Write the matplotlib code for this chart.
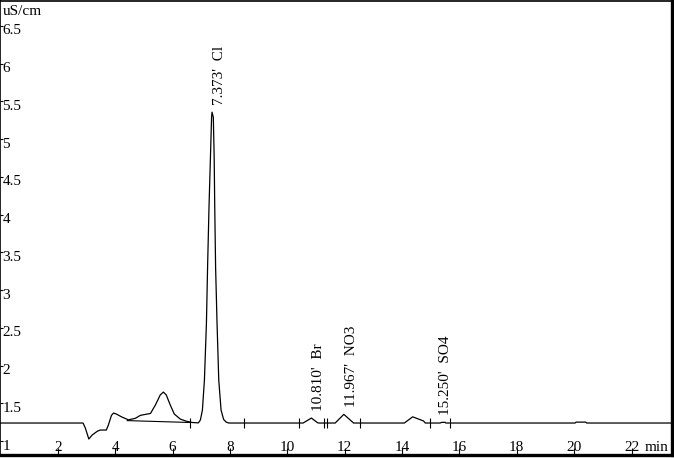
import matplotlib
matplotlib.use("Agg")
import matplotlib.pyplot as plt
import matplotlib.transforms as mtransforms

plt.rcParams['font.family'] = ['Liberation Serif', 'DejaVu Serif']

# chromatogram trace (min, uS/cm)
trace_time = [0.00, 2.88, 2.96, 3.08, 3.20, 3.38, 3.48, 3.69, 3.76, 3.87, 3.94, 4.04,
              4.22, 4.46, 4.70, 4.88, 5.23, 5.40, 5.57, 5.68, 5.78, 5.92, 6.06, 6.27,
              6.48, 6.69, 6.90, 6.97, 7.04, 7.11, 7.18, 7.22, 7.27, 7.32, 7.36, 7.375,
              7.42, 7.45, 7.47, 7.50, 7.55, 7.61, 7.69, 7.78, 7.87, 7.96, 10.55, 10.84, 11.05,
              11.09, 11.67, 11.97, 12.31, 14.08, 14.37, 14.75, 14.81, 15.33, 15.38, 15.50,
              15.53, 20.03, 20.07, 20.40, 20.44, 23.41]
trace_value = [1.238, 1.238, 1.17, 1.026, 1.08, 1.13, 1.145, 1.145, 1.21, 1.34, 1.37, 1.357,
               1.32, 1.28, 1.30, 1.34, 1.365, 1.476, 1.61, 1.648, 1.61, 1.476, 1.357, 1.29,
               1.262, 1.245, 1.24, 1.278, 1.41, 1.807, 2.56, 3.30, 4.10, 4.76, 5.29, 5.356,
               5.29, 4.76, 4.10, 3.30, 2.56, 1.807, 1.41, 1.285, 1.25, 1.238, 1.238, 1.304, 1.243,
               1.238, 1.238, 1.353, 1.238, 1.238, 1.32, 1.265, 1.238, 1.238, 1.247, 1.247,
               1.238, 1.238, 1.25, 1.25, 1.238, 1.238]

# integration baseline under the early peaks
base_time = [4.42, 6.62]
base_value = [1.27, 1.245]

# peak start / end markers
event_times = [6.62, 8.50, 10.42, 11.29, 11.39, 12.54, 14.98, 15.68]
baseline_level = 1.238

# labelled peaks
peak_names = ["7.373'  Cl", "10.810'  Br", "11.967'  NO3", "15.250'  SO4"]
peak_times = [7.373, 10.810, 11.967, 15.250]
peak_heights = [5.356, 1.304, 1.353, 1.247]

x_ticks = [2, 4, 6, 8, 10, 12, 14, 16, 18, 20, 22]
y_ticks = [1, 1.5, 2, 2.5, 3, 3.5, 4, 4.5, 5, 5.5, 6, 6.5]
y_tick_labels = ['1', '1.5', '2', '2.5', '3', '3.5', '4', '4.5', '5', '5.5', '6', '6.5']

fig = plt.figure(figsize=(6.74, 4.58), dpi=100)
ax = fig.add_axes([0.0007, 3.5 / 458, 671.5 / 674, 1 - 4.2 / 458])

ax.plot(trace_time, trace_value, color='black', lw=0.9)
ax.plot(base_time, base_value, color='black', lw=0.8)
ax.vlines(event_times, baseline_level - 0.06, baseline_level + 0.06, color='black', lw=0.8)

for name, t, h in zip(peak_names, peak_times, peak_heights):
    ax.annotate(name, xy=(t, h), xytext=(1, 5), textcoords='offset points',
                rotation=90, ha='left', va='bottom', fontsize=11)

ax.set_xlim(0, 23.41)
ax.set_ylim(0.821, 6.833)

ax.set_xticks(x_ticks)
ax.set_yticks(y_ticks)
ax.set_xticklabels([])
ax.set_yticklabels([])
ax.tick_params(axis='x', direction='in', length=5, width=0.8)
ax.tick_params(axis='y', direction='in', length=2, width=0.8)

ytrans = mtransforms.blended_transform_factory(ax.transAxes, ax.transData)
for v, lab in zip(y_ticks, y_tick_labels):
    ax.annotate(lab, xy=(0, v), xycoords=ytrans, xytext=(1.5, 1),
                textcoords='offset points', ha='left', va='top', fontsize=11)

xtrans = mtransforms.blended_transform_factory(ax.transData, ax.transAxes)
for t in x_ticks:
    ax.annotate(str(t), xy=(t, 0), xycoords=xtrans, xytext=(0, 0.5),
                textcoords='offset points', ha='center', va='bottom', fontsize=11)

ax.annotate('uS/cm', xy=(0, 1), xycoords='axes fraction', xytext=(1.5, -3),
            textcoords='offset points', ha='left', va='top', fontsize=11)
ax.annotate('min', xy=(1, 0), xycoords='axes fraction', xytext=(-2.5, 0.5),
            textcoords='offset points', ha='right', va='bottom', fontsize=11)

ax.spines['left'].set_linewidth(1.2)
ax.spines['top'].set_linewidth(1.2)
ax.spines['right'].set_linewidth(2.4)
ax.spines['bottom'].set_linewidth(2.4)

fig.savefig('out.png', dpi=100)
